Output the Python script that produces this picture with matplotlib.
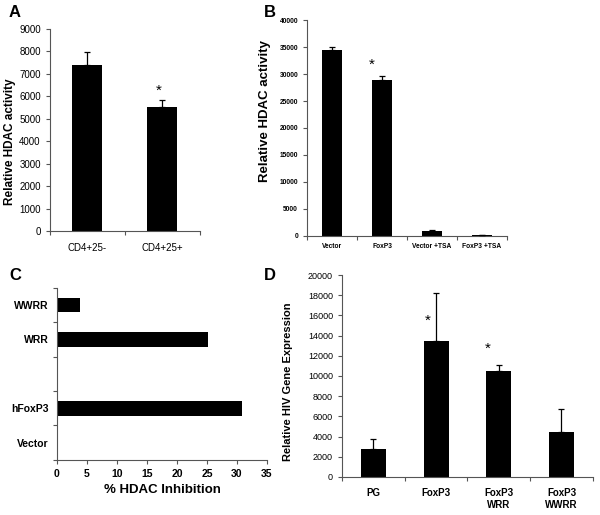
import numpy as np
import matplotlib
matplotlib.use("Agg")
import matplotlib.pyplot as plt

# panel A
a_labels = ['CD4+25-', 'CD4+25+']
a_vals = [7400, 5500]
a_err = [550, 350]

# panel B
b_labels = ['Vector', 'FoxP3', 'Vector +TSA', 'FoxP3 +TSA']
b_vals = [34400, 28900, 900, 200]
b_err = [600, 700, 150, 50]

# panel C
c_labels = ['Vector', 'hFoxP3', '', 'WRR', 'WWRR']
c_vals = [0, 30.8, 0, 25.2, 3.9]

# panel D
d_labels = ['PG', 'FoxP3', 'FoxP3\nWRR', 'FoxP3\nWWRR']
d_vals = [2800, 13500, 10500, 4400]
d_err = [1000, 4700, 600, 2300]

arial = ['Liberation Sans', 'DejaVu Sans']
spine_col = '#555555'

fig = plt.figure(figsize=(6, 5.15), dpi=100)


def style(ax):
    for s in ['top', 'right']:
        ax.spines[s].set_visible(False)
    for s in ['left', 'bottom']:
        ax.spines[s].set_color(spine_col)
        ax.spines[s].set_linewidth(0.8)
    ax.tick_params(colors=spine_col, length=3, width=0.8, labelcolor='black')


def vbars(ax, labels, vals, err):
    x = np.arange(len(labels))
    ax.bar(x, vals, width=0.4, color='black', zorder=2)
    ax.errorbar(x, vals, yerr=[np.zeros(len(err)), err], fmt='none',
                ecolor='black', elinewidth=0.9, capsize=2, capthick=0.9, zorder=3)
    ax.set_xlim(-0.5, len(labels) - 0.5)
    ax.set_xticks(np.arange(len(labels) + 1) - 0.5)
    ax.set_xticklabels([])
    ax.set_xticks(x, minor=True)
    ax.set_xticklabels(labels, minor=True)
    ax.tick_params(axis='x', which='minor', length=0)


def star(ax, x, y):
    ax.text(x, y, '*', ha='center', va='center', fontsize=11, family=arial)


# A
axA = fig.add_axes([0.083, 0.5515, 0.25, 0.3925])
vbars(axA, a_labels, a_vals, a_err)
star(axA, 0.95, 6250)
axA.set_ylim(0, 9000)
axA.set_yticks(range(0, 9001, 1000))
style(axA)
for t in axA.get_yticklabels() + axA.get_xticklabels(minor=True):
    t.set_family(arial)
    t.set_fontsize(7)
axA.tick_params(axis='x', which='minor', pad=9)
axA.set_ylabel('Relative HDAC activity', fontsize=8.5, fontweight='bold', family=arial)
axA.yaxis.set_label_coords(-0.225, 0.44)
fig.text(0.015, 0.99, 'A', fontsize=12, fontweight='bold', family=arial, va='top')

# B
axB = fig.add_axes([0.512, 0.542, 0.333, 0.419])
vbars(axB, b_labels, b_vals, b_err)
star(axB, 0.8, 31700)
axB.set_ylim(0, 40000)
axB.set_yticks(range(0, 40001, 5000))
style(axB)
for t in axB.get_yticklabels() + axB.get_xticklabels(minor=True):
    t.set_family(arial)
    t.set_fontsize(4.8)
    t.set_fontweight('bold')
axB.tick_params(axis='x', which='minor', pad=5)
axB.set_ylabel('Relative HDAC activity', fontsize=9.5, fontweight='bold', family=arial)
axB.yaxis.set_label_coords(-0.18, 0.58)
fig.text(0.44, 0.99, 'B', fontsize=12, fontweight='bold', family=arial, va='top')

# C
axC = fig.add_axes([0.095, 0.107, 0.35, 0.334])
y = np.arange(len(c_labels))
axC.barh(y, c_vals, height=0.42, color='black')
axC.set_ylim(-0.5, len(c_labels) - 0.5)
axC.set_yticks(np.arange(len(c_labels) + 1) - 0.5)
axC.set_yticklabels([])
axC.set_yticks(y, minor=True)
axC.set_yticklabels(c_labels, minor=True)
axC.set_xlim(0, 35)
axC.set_xticks(range(0, 36, 5))
style(axC)
axC.tick_params(axis='y', which='minor', length=0, pad=6)
for t in axC.get_yticklabels(minor=True):
    t.set_family(arial)
    t.set_fontsize(7.5)
    t.set_fontweight('bold')
for t in axC.get_xticklabels():
    t.set_family(arial)
    t.set_fontsize(7.5)
    t.set_fontweight('bold')
axC.set_xlabel('% HDAC Inhibition', fontsize=9.5, fontweight='bold', family=arial)
fig.text(0.015, 0.48, 'C', fontsize=12, fontweight='bold', family=arial, va='top')

# D
axD = fig.add_axes([0.57, 0.074, 0.418, 0.392])
vbars(axD, d_labels, d_vals, d_err)
star(axD, 0.87, 15500)
star(axD, 1.83, 12700)
axD.set_ylim(0, 20000)
axD.set_yticks(range(0, 20001, 2000))
style(axD)
for t in axD.get_yticklabels():
    t.set_family(arial)
    t.set_fontsize(6.5)
for t in axD.get_xticklabels(minor=True):
    t.set_family(arial)
    t.set_fontsize(7)
    t.set_fontweight('bold')
axD.tick_params(axis='x', which='minor', pad=8)
axD.set_ylabel('Relative HIV Gene Expression', fontsize=8, fontweight='bold', family=arial)
axD.yaxis.set_label_coords(-0.195, 0.47)
fig.text(0.44, 0.48, 'D', fontsize=12, fontweight='bold', family=arial, va='top')

fig.savefig('out.png', dpi=100)
